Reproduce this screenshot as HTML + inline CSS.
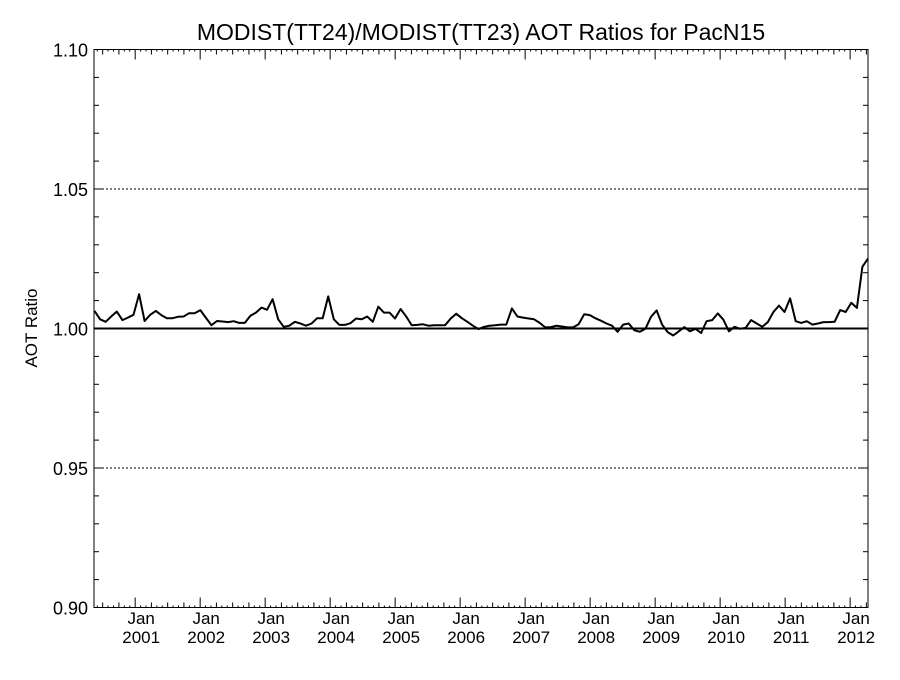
<!DOCTYPE html>
<html><head><meta charset="utf-8"><style>
body{margin:0;background:#fff}
svg{font-family:"Liberation Sans",sans-serif}
</style></head><body>
<svg id="c" width="900" height="675" xmlns="http://www.w3.org/2000/svg">
<rect width="900" height="675" fill="#fff"/>
<text x="481" y="40" font-size="23" text-anchor="middle">MODIST(TT24)/MODIST(TT23)  AOT Ratios for PacN15</text>
<text transform="translate(37,328) rotate(-90)" font-size="17" text-anchor="middle">AOT Ratio</text>
<g id="ax"></g>
<g id="marks"></g>
</svg>
<script>
const yTicks=[0.90,0.95,1.00,1.05,1.10];
const yTickLabels=["0.90","0.95","1.00","1.05","1.10"];
const years=[2001,2002,2003,2004,2005,2006,2007,2008,2009,2010,2011,2012];
const seg1=[6.3,3.3,2.4,4.3,6.1,3.0,3.9,4.9,12.3,2.7,4.9,6.3,4.8,3.7,3.7,4.2,4.3,5.5,5.5,6.6,3.9,1.2,2.7,2.5,2.3,2.6,2.0,2.0,4.5,5.7,7.5,6.7,10.5,3.3,0.6,1.0,2.4,1.8,1.0,1.8,3.7,3.7,11.5,3.3,1.3,1.3,1.9,3.6];
const seg2=[3.3,4.3,2.4,7.8,5.7,5.7,3.6,7.0,4.3,1.2,1.3,1.5,1.0,1.2,1.2,1.2,3.6,5.3,3.7,2.4,1.0,-0.2,0.6,1.0,1.2,1.4,1.4,7.2,4.3,3.9,3.6,3.3,2.0,0.4,0.5,1.0,0.7,0.4,0.4,1.5,5.1,4.8,3.7,2.8,1.8,1.0,-1.2];
const seg3=[1.4,1.8,-0.6,-1.2,-0.1,4.2,6.5,1.4,-1.3,-2.5,-1.0,0.5,-1.0,-0.1,-1.6,2.6,3.0,5.4,3.2,-1.0,0.6,-0.1,0.2,3.0,1.8,0.6,2.3,5.9,8.2,5.9,10.8,2.6,2.0,2.6,1.4,1.8,2.3,2.3,2.4,6.6,5.9,9.2,7.4,22.1,25.1];
const ratios=seg1.concat(seg2,seg3).map(v=>1+v/1000);

const L=94,R=868,T=49.5,B=607.5;
const tMin=4.4,tMax=147.3; // months since Jan 2000
const X=t=>L+(t-tMin)/(tMax-tMin)*(R-L);
const Y=v=>B-(v-0.90)/(0.20)*(B-T);
const NS="http://www.w3.org/2000/svg";
function mk(tag,at,parent){const e=document.createElementNS(NS,tag);for(const k in at)e.setAttribute(k,at[k]);parent.appendChild(e);return e;}
const ax=document.getElementById('ax'),mg=document.getElementById('marks');
// frame
const fr=mk('rect',{x:L,y:T,width:R-L,height:B-T,fill:'none',stroke:'#000','stroke-width':1},ax);


// y ticks
for(let v=0.90;v<=1.1001;v+=0.01){
  const y=Y(v),maj=Math.abs(Math.round(v*100)%5)===0;
  const len=maj?10:5;
  mk('line',{x1:L,x2:L+len,y1:y,y2:y,stroke:'#000'},ax);
  mk('line',{x1:R,x2:R-len,y1:y,y2:y,stroke:'#000'},ax);
}
yTicks.forEach((v,i)=>{
  const t=mk('text',{x:L-6,y:Y(v)+7,'font-size':18,'text-anchor':'end'},ax);
  t.textContent=yTickLabels[i];
  
  
});
// gridlines
[0.95,1.05].forEach(v=>{
  const g=mk('line',{x1:L,x2:R,y1:Y(v),y2:Y(v),stroke:'#000','stroke-dasharray':'2,2'},ax);
  
  
});
const ref=mk('line',{x1:L,x2:R,y1:Y(1),y2:Y(1),stroke:'#000','stroke-width':2},ax);


// x ticks
for(let m=5;m<=tMax;m++){
  const x=X(m);
  let len=2;
  if(m%12===0)len=10;else if(m%3===0)len=5;
  mk('line',{x1:x,x2:x,y1:B,y2:B-len,stroke:'#000'},ax);
  mk('line',{x1:x,x2:x,y1:T,y2:T+len,stroke:'#000'},ax);
}
years.forEach(yr=>{
  const x=X((yr-2000)*12)+6;
  const a=mk('text',{x:x,y:624,'font-size':17,'text-anchor':'middle'},ax);a.textContent='Jan';
  
  
  const b=mk('text',{x:x,y:643,'font-size':17,'text-anchor':'middle'},ax);b.textContent=String(yr);
  
  
});
// series
const n=ratios.length;
const pts=ratios.map((v,i)=>{const t=tMin+0.1+i*(tMax-tMin-0.1)/(n-1);return X(t).toFixed(1)+','+Y(v).toFixed(1);}).join(' ');
const pl=mk('polyline',{points:pts,fill:'none',stroke:'#000','stroke-width':2,'stroke-linejoin':'round'},mg);


</script>
</body></html>
